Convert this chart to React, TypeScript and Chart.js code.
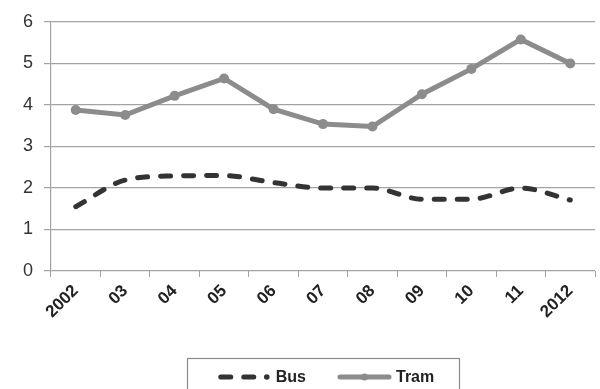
import React, { useEffect, useRef } from "react";
import { Chart, registerables } from "chart.js";

Chart.register(...registerables);

// Years along the x axis
const years = ["2002", "03", "04", "05", "06", "07", "08", "09", "10", "11", "2012"];

// Series values
const busValues = [1.55, 2.19, 2.29, 2.3, 2.13, 2.0, 2.0, 1.73, 1.73, 2.0, 1.71];
const tramValues = [3.88, 3.76, 4.22, 4.64, 3.9, 3.54, 3.48, 4.26, 4.87, 5.58, 5.0];

// Y-axis range
const yMin = 0;
const yMax = 6;
const yStep = 1;

const FONT = '"Liberation Sans", Arial, sans-serif';
const BUS_COLOR = "#333333";
const TRAM_COLOR = "#8c8c8c";
const GRID_COLOR = "#a3a3a3";

// Boxed legend under the axis, with line samples for each series
const boxedLegend = {
  id: "boxedLegend",
  afterDraw(chart: any) {
    const { ctx, chartArea } = chart;
    const datasets = chart.data.datasets;
    ctx.save();
    ctx.font = `bold 16px ${FONT}`;
    const sampleW = 53;
    const textGap = 5;
    const itemGap = 32;
    const widths = datasets.map(
      (d: any) => sampleW + textGap + ctx.measureText(d.label).width
    );
    const total =
      widths.reduce((a: number, b: number) => a + b, 0) + itemGap * (datasets.length - 1);
    const cx = (chartArea.left + chartArea.right) / 2 + 3;
    const cy = chart.height - 12;
    let x = cx - total / 2;

    // frame
    ctx.strokeStyle = "#8a8a8a";
    ctx.lineWidth = 1.2;
    ctx.strokeRect(
      Math.round(x - 31) + 0.5,
      Math.round(cy - 19) + 0.5,
      Math.round(total + 56),
      60
    );

    datasets.forEach((d: any, i: number) => {
      ctx.save();
      ctx.strokeStyle = d.borderColor;
      ctx.fillStyle = d.borderColor;
      ctx.lineWidth = 5;
      ctx.lineCap = "round";
      if (d.borderDash && d.borderDash.length) {
        ctx.setLineDash(d.borderDash);
        ctx.beginPath();
        ctx.moveTo(x + 3, cy);
        ctx.lineTo(x + 40, cy);
        ctx.stroke();
        ctx.setLineDash([]);
        ctx.beginPath();
        ctx.arc(x + 49, cy, 2.8, 0, Math.PI * 2);
        ctx.fill();
      } else {
        ctx.beginPath();
        ctx.moveTo(x + 2, cy);
        ctx.lineTo(x + sampleW - 2, cy);
        ctx.stroke();
        ctx.beginPath();
        ctx.arc(x + sampleW / 2, cy, 3.6, 0, Math.PI * 2);
        ctx.fill();
      }
      ctx.restore();
      ctx.fillStyle = "#222";
      ctx.textBaseline = "middle";
      ctx.textAlign = "left";
      ctx.fillText(d.label, x + sampleW + textGap, cy + 1);
      x += widths[i] + itemGap;
    });
    ctx.restore();
  },
};

export default function App() {
  const canvasRef = useRef<HTMLCanvasElement | null>(null);

  useEffect(() => {
    if (!canvasRef.current) return;
    const chart = new Chart(canvasRef.current, {
      type: "line",
      data: {
        labels: years,
        datasets: [
          {
            label: "Bus",
            data: busValues,
            borderColor: BUS_COLOR,
            backgroundColor: BUS_COLOR,
            borderWidth: 5,
            borderDash: [10, 13],
            borderCapStyle: "round",
            cubicInterpolationMode: "monotone",
            pointRadius: 0,
            pointHoverRadius: 0,
          },
          {
            label: "Tram",
            data: tramValues,
            borderColor: TRAM_COLOR,
            backgroundColor: TRAM_COLOR,
            borderWidth: 5,
            tension: 0,
            pointRadius: 5,
            pointHoverRadius: 5,
            pointBorderWidth: 0,
            pointBackgroundColor: TRAM_COLOR,
          },
        ],
      },
      options: {
        animation: false,
        responsive: false,
        maintainAspectRatio: false,
        layout: { padding: { top: 22, left: 0, right: 0, bottom: 48 } },
        plugins: {
          legend: { display: false },
          tooltip: { enabled: false },
        },
        scales: {
          x: {
            offset: true,
            afterFit: (s: any) => {
              s.height = 70;
            },
            grid: {
              offset: true,
              drawOnChartArea: false,
              drawTicks: true,
              tickLength: 6,
              color: GRID_COLOR,
            },
            border: { display: false },
            ticks: {
              minRotation: 45,
              maxRotation: 45,
              autoSkip: false,
              padding: 4,
              color: "#222",
              font: { family: FONT, size: 17, weight: "bold" },
            },
          },
          y: {
            min: yMin,
            max: yMax,
            afterFit: (s: any) => {
              s.width = 51;
            },
            grid: {
              color: GRID_COLOR,
              lineWidth: 1.2,
              tickLength: 7,
            },
            border: { display: true, color: GRID_COLOR, width: 1.2 },
            ticks: {
              stepSize: yStep,
              padding: 11,
              color: "#333",
              font: { family: FONT, size: 18 },
            },
          },
        },
      },
      plugins: [boxedLegend],
    } as any);
    return () => chart.destroy();
  }, []);

  return (
    <div style={{ position: "fixed", left: 0, top: 0, width: 600, height: 389 }}>
      <canvas ref={canvasRef} width={600} height={389} />
    </div>
  );
}
